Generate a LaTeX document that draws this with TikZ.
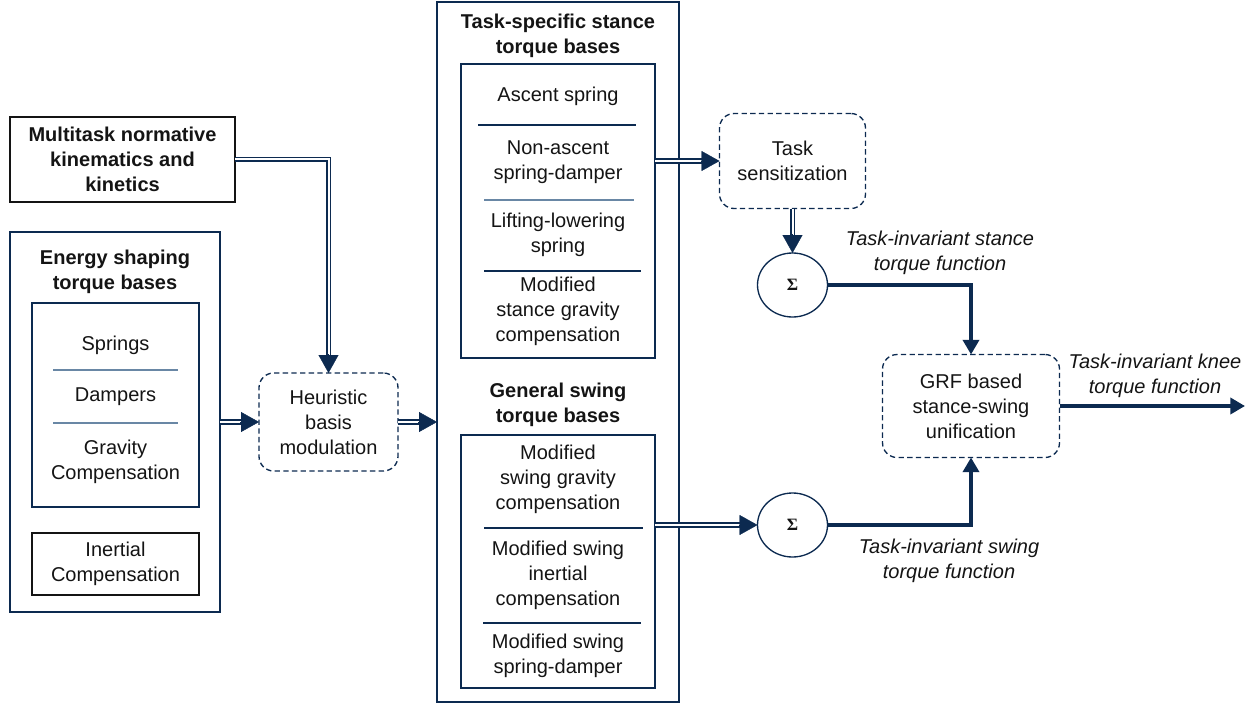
\documentclass[tikz,border=0pt]{standalone}
\usepackage{fontspec}
\setmainfont{Liberation Sans}
\newfontfamily\sigfont{Liberation Serif}
\usetikzlibrary{arrows.meta,calc,shapes.geometric}
\definecolor{navy}{RGB}{12,42,80}
\definecolor{steel}{RGB}{105,135,165}
\definecolor{ink}{RGB}{20,20,20}
\begin{document}
\begin{tikzpicture}[x=0.75pt,y=-0.75pt,
  txt/.style={font=\fontsize{15}{18.75}\selectfont, align=center, text=ink, inner sep=0pt},
  ttl/.style={font=\fontsize{15}{18.75}\selectfont\bfseries, align=center, text=ink, inner sep=0pt},
  lbl/.style={font=\fontsize{15}{18.75}\selectfont\itshape, align=center, text=ink, inner sep=0pt},
  box/.style={draw=navy, line width=1.1pt, inner sep=0pt, outer sep=0pt},
  blackbox/.style={draw=ink, line width=1.1pt, inner sep=0pt, outer sep=0pt},
  dashbox/.style={draw=navy, line width=1pt, dash pattern=on 4pt off 2.5pt, rounded corners=11pt, inner sep=0pt, outer sep=0pt},
  sumnode/.style={draw=navy, line width=1pt, ellipse, inner sep=0pt, outer sep=0pt, minimum width=52.5pt, minimum height=48pt, font=\sigfont\bfseries\fontsize{13}{15}\selectfont, text=ink},
  sepdark/.style={draw=navy, line width=0.8pt},
  seplight/.style={draw=steel, line width=0.8pt},
  dbl/.style={draw=navy, line width=1.3pt, double=white, double distance=1.5pt},
  tipD/.style={draw=navy, line width=0.3pt, -{Triangle[length=13.5pt,width=15pt]}},
  thick/.style={draw=navy, line width=3.5pt, -{Triangle[length=11pt,width=12pt]}}
]
\useasboundingbox (0,0) rectangle (1255,706);

% left column
\node[blackbox, ttl, minimum width=168.75pt, minimum height=63.75pt] (mt) at (122.5,159.5) {Multitask normative\\kinematics and\\kinetics};
\node[box, minimum width=157.5pt, minimum height=285pt] (energy) at (115,422) {};
\node[ttl] (energyttl) at (115,271.5) {Energy shaping\\torque bases};
\node[box, minimum width=125.25pt, minimum height=153pt] (einner) at (115.5,405) {};
\node[txt] (springs) at (115.5,345) {Springs};
\node[txt] (dampers) at (115.5,397) {Dampers};
\node[txt] (gravity) at (115.5,462) {Gravity\\Compensation};
\draw[seplight] (53,370) -- (178,370);
\draw[seplight] (53,423) -- (178,423);
\node[blackbox, txt, minimum width=125.25pt, minimum height=46.5pt] (inertial) at (115.5,564) {Inertial\\Compensation};

% heuristic
\node[dashbox, txt, minimum width=104.25pt, minimum height=73.5pt] (heur) at (328.5,422) {Heuristic\\basis\\modulation};

% middle column
\node[box, minimum width=181.5pt, minimum height=525pt] (mid) at (558,352) {};
\node[ttl] (stancettl) at (558,36) {Task-specific stance\\torque bases};
\node[box, minimum width=145.5pt, minimum height=220.5pt] (stance) at (558,211) {};
\node[txt] (ascent) at (558,96) {Ascent spring};
\node[txt] (nonascent) at (558,162.5) {Non-ascent\\spring-damper};
\node[txt] (lifting) at (558,234.5) {Lifting-lowering\\spring};
\node[txt] (modstance) at (558,311) {Modified\\stance gravity\\compensation};
\draw[sepdark] (478,125) -- (636,125);
\draw[seplight] (484,200) -- (634,200);
\draw[sepdark] (484,271) -- (641,271);

\node[ttl] (swingttl) at (558,405) {General swing\\torque bases};
\node[box, minimum width=145.5pt, minimum height=189.75pt] (swing) at (558,561.5) {};
\node[txt] (swgrav) at (558,479) {Modified\\swing gravity\\compensation};
\node[txt] (swinert) at (558,575) {Modified swing\\inertial\\compensation};
\node[txt] (swspring) at (558,655.5) {Modified swing\\spring-damper};
\draw[sepdark] (484,528) -- (643,528);
\draw[sepdark] (483,623) -- (641,623);

% right part
\node[dashbox, txt, minimum width=109.5pt, minimum height=71.25pt] (task) at (792.5,161) {Task\\sensitization};
\node[sumnode] (sig1) at (792.5,285) {Σ};
\node[sumnode] (sig2) at (792.5,525) {Σ};
\node[dashbox, txt, minimum width=132.75pt, minimum height=77.25pt] (grf) at (971,406) {GRF based\\stance-swing\\unification};
\coordinate (out) at (1245,406);

\node[lbl] (stancelbl) at (940,252.5) {Task-invariant stance\\torque function};
\node[lbl] (swinglbl) at (949,560.5) {Task-invariant swing\\torque function};
\node[lbl] (kneelbl) at (1155,375.5) {Task-invariant knee\\torque function};

% double connectors
\draw[dbl, shorten >=12pt] (mt.east) -| (heur.north);
\draw[tipD] ([yshift=14pt]heur.north) -- (heur.north);
\draw[dbl, shorten >=12pt] (energy.east |- heur.west) -- (heur.west);
\draw[tipD] ([xshift=-14pt]heur.west) -- (heur.west);
\draw[dbl, shorten >=12pt] (heur.east) -- (heur.east -| mid.west);
\draw[tipD] ([xshift=-14pt]heur.east -| mid.west) -- (heur.east -| mid.west);
\draw[dbl, shorten >=12pt] (task.west -| stance.east) -- (task.west);
\draw[tipD] ([xshift=-14pt]task.west) -- (task.west);
\draw[dbl, shorten >=12pt] (task.south) -- (sig1.north);
\draw[tipD] ([yshift=14pt]sig1.north) -- (sig1.north);
\draw[dbl, shorten >=12pt] (sig2.west -| swing.east) -- (sig2.west);
\draw[tipD] ([xshift=-14pt]sig2.west) -- (sig2.west);

% thick connectors
\draw[thick] (sig1.east) -| (grf.north);
\draw[thick] (sig2.east) -| (grf.south);
\draw[thick] (grf.east) -- (out);
\end{tikzpicture}
\end{document}
